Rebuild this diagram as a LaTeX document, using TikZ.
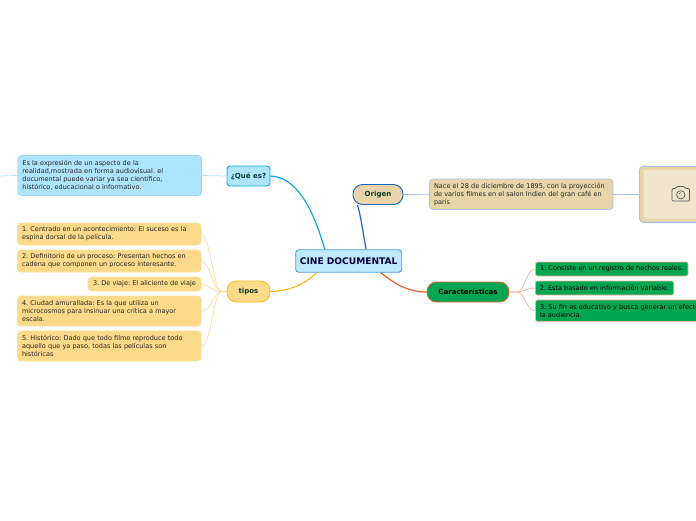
\documentclass[tikz,border=0pt]{standalone}
\usepackage{fontspec}
\setmainfont{DejaVu Sans}
\usetikzlibrary{calc}

\definecolor{rootfill}{HTML}{BFE8FD}
\definecolor{rootline}{HTML}{4A9FD8}
\definecolor{bluefill}{HTML}{AEE4FD}
\definecolor{blueline}{HTML}{0EA5E4}
\definecolor{sandfill}{HTML}{E8D4A8}
\definecolor{sandline}{HTML}{A4C2E8}
\definecolor{darkblue}{HTML}{1565C8}
\definecolor{yellowfill}{HTML}{FDD98A}
\definecolor{yellowline}{HTML}{FBB91E}
\definecolor{greenfill}{HTML}{00A651}
\definecolor{orangeline}{HTML}{F0602C}
\definecolor{labeltext}{HTML}{0A3D2E}

\begin{document}
\begin{tikzpicture}
        [x=1pt, y=-1pt, line join=round,
        topic/.style={draw, line width=0.9pt, rounded corners=3pt, inner sep=0pt, align=center, font=\fontsize{7}{8}\selectfont\bfseries, text=labeltext},
        pill/.style={topic, rounded corners=9.5pt},
        note/.style={draw, line width=0.7pt, rounded corners=3.5pt, inner xsep=4.5pt, inner ysep=0pt, align=left, font={\fontsize{6.52}{8.1}\selectfont\frenchspacing\hyphenpenalty=10000}, text=black!85},
        bluenote/.style={note, fill=bluefill, draw=blueline!45},
        sandnote/.style={note, fill=sandfill, draw=sandline},
        yellownote/.style={note, fill=yellowfill, draw=yellowline!45},
        greennote/.style={note, fill=greenfill, draw=orangeline!45, rounded corners=2pt, text=black},
        main/.style={line width=1.2pt},
        thinedge/.style={line width=0.75pt},
        ]

        \clip (0,0) rectangle (696,520);

        \node[topic, fill=rootfill, draw=rootline, minimum width=106pt, minimum height=22.5pt, text=black!20!blue!30!black, font=\fontsize{9.1}{10}\selectfont\bfseries] (root) at (348.7,261) {CINE DOCUMENTAL};

        \node[topic, fill=bluefill, draw=blueline, minimum width=43pt, minimum height=20pt] (quees) at (248.5,176) {¿Qué es?};
        \node[pill, fill=sandfill, draw=darkblue, minimum width=50pt, minimum height=20pt] (origen) at (378,194.5) {Origen};
        \node[pill, fill=yellowfill, draw=yellowline, minimum width=43pt, minimum height=21pt] (tipos) at (248.5,291.5) {tipos};
        \node[pill, fill=greenfill, draw=orangeline, minimum width=82pt, minimum height=20pt, text=black] (carac) at (468,292) {Características};

        \node[bluenote, text width=174.5pt, minimum height=40pt] (expresion) at (109.7,175.5) {Es la expresión de un aspecto de la\\realidad,mostrada en forma audiovisual. el\\documental puede variar ya sea científico,\\histórico, educacional o informativo.};
        \coordinate (expresionend) at (0,176);

        \node[sandnote, text width=174.5pt, minimum height=30.5pt] (nace) at (521.3,194.3) {Nace el 28 de diciembre de 1895, con la proyección\\de varios filmes en el salon Indien del gran café en\\paris};
        \node[note, fill=sandfill, draw=sandline, line width=0.9pt, minimum width=83pt, minimum height=56pt] (imagen) at (681,194.3) {};
        \node[fill=sandfill!60!white, rounded corners=3pt, minimum width=76pt, minimum height=49pt, inner sep=0pt] (imageninner) at (681.5,194.3) {};

        % tipos
        \node[yellownote, text width=174.5pt, minimum height=22pt] (tipouno) at (109.3,234) {1. Centrado en un acontecimiento: El suceso es la\\espina dorsal de la película.};
        \node[yellownote, text width=174.5pt, minimum height=22pt] (tipodos) at (109.3,261) {2. Definitorio de un proceso: Presentan hechos en\\cadena que componen un proceso interesante.};
        \node[yellownote, minimum width=113pt, minimum height=14pt] (tipotres) at (144.5,284) {3. De viaje: El aliciente de viaje};
        \node[yellownote, text width=174.5pt, minimum height=30pt] (tipocuatro) at (109.3,311) {4. Ciudad amurallada: Es la que utiliza un\\microcosmos para insinuar una crítica a mayor\\escala.};
        \node[yellownote, text width=174.5pt, minimum height=30pt] (tipocinco) at (109.3,346) {5. Histórico: Dado que todo filme reproduce todo\\aquello que ya paso, todas las películas son\\históricas};

        % caracteristicas
        \node[greennote, minimum width=152.5pt, minimum height=14pt] (caracuno) at (611.8,269) {1. Consiste en un registro de hechos reales.};
        \node[greennote, minimum width=138pt, minimum height=14pt] (caracdos) at (604.5,288) {2. Esta basado en información variable.};
        \node[greennote, text width=204pt, minimum height=21.5pt] (caractres) at (642,310.7) {3. Su fin es educativo y busca generar un efecto en\\la audiencia.};

        \draw[main, blueline] (root.154) .. controls (314,212) and (298,177) .. (quees.east);
        \draw[main, darkblue] (root.34) .. controls (363,232) and (361,217) .. (origen.207);
        \draw[main, yellowline] (root.200) .. controls (305,284) and (290,291) .. (tipos.east);
        \draw[main, orangeline] (root.340) .. controls (395,284) and (408,292) .. (carac.west);

        \draw[thinedge, blueline!35] (quees.west) -- (expresion.east);
        \draw[thinedge, blueline!35] (expresion.west) -- (expresionend);
        \draw[thinedge, sandline] (origen.east) -- (nace.west);
        \draw[thinedge, sandline] (nace.east) -- (imagen.west);

        \foreach \n in {tipouno,tipodos,tipotres,tipocuatro,tipocinco}
            \draw[thinedge, yellowline!45] (tipos.west) -- ++(-5,0) .. controls ++(-8,0) and ($(\n.east)+(9,2)$) .. (\n.east);
        \foreach \n in {caracuno,caracdos,caractres}
            \draw[thinedge, orangeline!45] (carac.east) -- ++(8,0) .. controls ++(7,0) and ($(\n.west)+(-9,0)$) .. (\n.west);

        % camera
        \draw[black!65, line width=0.7pt, rounded corners=1pt] (672,188.5) -- (675.5,188.5) -- (677,186.5) -- (684,186.5) -- (685.5,188.5) -- (689.5,188.5) -- (689.5,201) -- (672,201) -- cycle;
        \draw[black!65, line width=0.7pt] (680.8,194.8) circle (4.2);
        \draw[black!65, line width=0.5pt] (679,194.5) arc (180:270:2);

    \end{tikzpicture}
\end{document}
